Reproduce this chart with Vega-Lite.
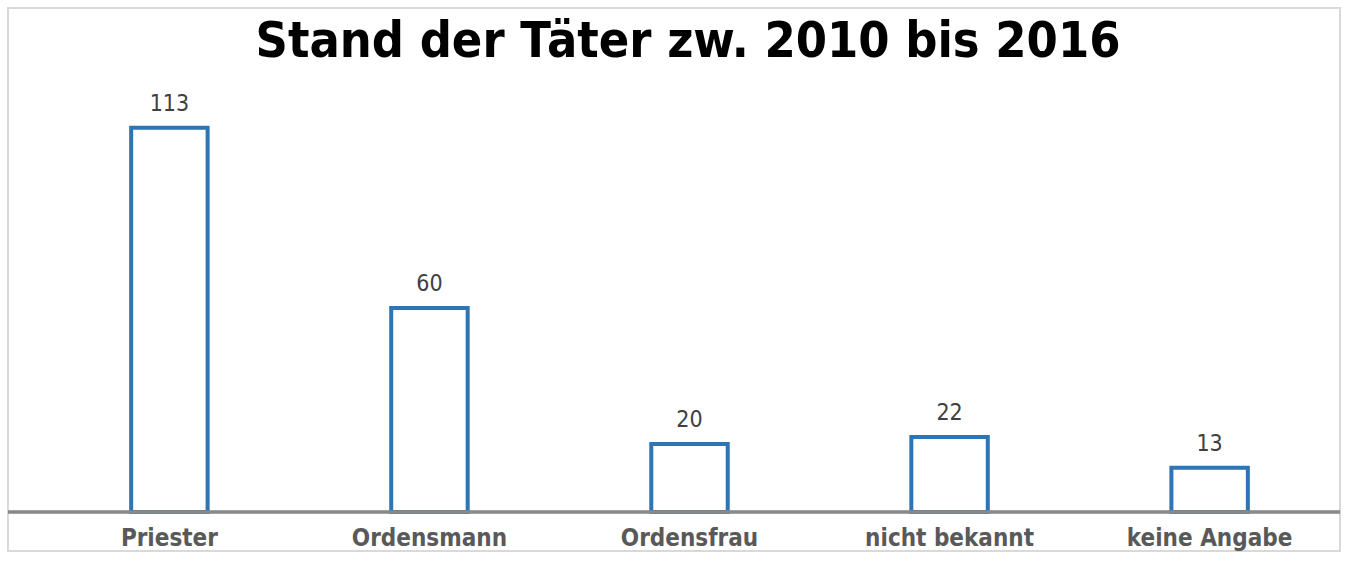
{
  "$schema": "https://vega.github.io/schema/vega-lite/v6.json",
  "width": 1332,
  "height": 543,
  "autosize": {"type": "none"},
  "padding": {"left": 8, "top": 8, "right": 8, "bottom": 11},
  "background": "white",
  "config": {
    "view": {"stroke": "#d9d9d9", "strokeWidth": 2},
    "font": "DejaVu Sans Condensed"
  },
  "title": {
    "text": "Stand der Täter zw. 2010 bis 2016",
    "fontSize": 50,
    "fontWeight": "bold",
    "color": "#000000",
    "font": "DejaVu Sans Condensed",
    "anchor": "middle",
    "offset": -99,
    "dx": 14,
    "baseline": "alphabetic"
  },
  "data": {
    "values": [
      {"Stand": "Priester", "Anzahl": 113},
      {"Stand": "Ordensmann", "Anzahl": 60},
      {"Stand": "Ordensfrau", "Anzahl": 20},
      {"Stand": "nicht bekannt", "Anzahl": 22},
      {"Stand": "keine Angabe", "Anzahl": 13}
    ]
  },
  "layer": [
    {
      "mark": {"type": "bar", "fill": "white", "stroke": "#2E75B6", "strokeWidth": 4},
      "encoding": {
        "x": {
          "field": "Stand",
          "type": "nominal",
          "sort": null,
          "scale": {"paddingInner": 0.706, "paddingOuter": 0.414, "align": 0.572},
          "axis": {
            "title": null,
            "domain": false,
            "ticks": false,
            "labelAngle": 0,
            "labelFontSize": 24,
            "labelFontWeight": "bold",
            "labelColor": "#595959",
            "labelFont": "DejaVu Sans Condensed",
            "labelPadding": -25,
            "labelBaseline": "top"
          }
        },
        "y": {
          "field": "Anzahl",
          "type": "quantitative",
          "scale": {"domain": [-11.5, 148.2], "nice": false, "zero": false},
          "axis": null
        },
        "y2": {"datum": 0}
      }
    },
    {
      "mark": {"type": "text", "fontSize": 23, "color": "#404040", "baseline": "bottom", "dy": -12, "font": "DejaVu Sans Condensed"},
      "encoding": {
        "x": {"field": "Stand", "type": "nominal", "sort": null},
        "y": {"field": "Anzahl", "type": "quantitative"},
        "text": {"field": "Anzahl", "type": "quantitative"}
      }
    },
    {
      "mark": {"type": "rule", "color": "#898989", "strokeWidth": 2.5},
      "encoding": {"y": {"datum": 0}}
    }
  ]
}
